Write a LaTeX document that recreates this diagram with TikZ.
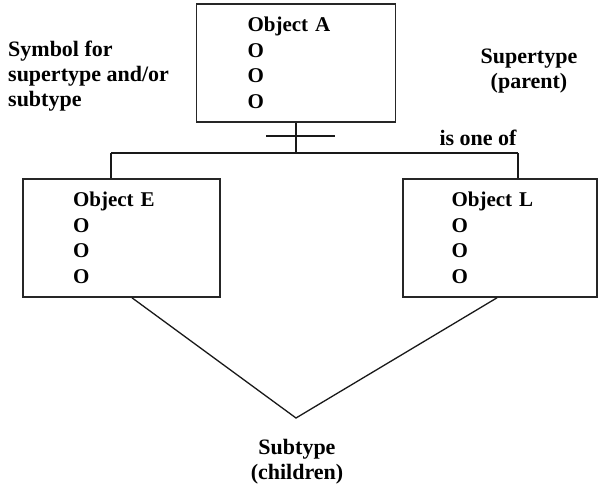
\documentclass[tikz,border=0pt]{standalone}
\usepackage{fontspec}
\setmainfont{Liberation Serif}
\usepackage{tikz}
\usetikzlibrary{positioning}

\begin{document}
\begin{tikzpicture}[
    x=1pt, y=-1pt,
    objbox/.style={rectangle, draw=black!85, line width=1.6pt, align=left, text width=97pt, inner sep=0pt, minimum height=118pt, font=\fontsize{21}{25.5}\selectfont\bfseries},
    label/.style={align=center, inner sep=0pt, font=\fontsize{22}{25}\selectfont\bfseries},
    link/.style={draw=black!90, line width=1.3pt}
]
    \useasboundingbox (0,0) rectangle (598,487);
    % Object boxes
    \node[objbox, minimum width=199pt] (objA) at (296,63) {Object A\\O\\O\\O};
    \node[objbox, minimum width=197pt] (objE) at (121.5,238) {Object E\\O\\O\\O};
    \node[objbox, minimum width=194pt] (objL) at (500,238) {Object L\\O\\O\\O};

    % Side texts
    \node[label, align=left, anchor=west] (symb) at (8,76) {Symbol for\\supertype and/or\\subtype};
    \node[label] (super) at (529,71) {Supertype\\(parent)};
    \node[label] (oneof) at (478,138) {is one of};
    \node[label] (sub) at (297,462) {Subtype\\(children)};

    % Connector tree
    \coordinate (jn) at (296,153);
    \coordinate (jnE) at (111,153);
    \coordinate (jnL) at (518,153);
    \coordinate (barW) at (266,136);
    \coordinate (barE) at (335,136);
    \draw[link] (objA.south) -- (jn);
    \draw[link] (barW) -- (barE);
    \draw[link] (jnE) -- (jnL);
    \draw[link] (jnE) -- (jnE |- objE.north);
    \draw[link] (jnL) -- (jnL |- objL.north);

    % Subtype wedge
    \path (objE.south) ++(10.5,0) coordinate (vE);
    \path (objL.south) ++(-3,0) coordinate (vL);
    \coordinate (apex) at (296,418);
    \draw[link] (vE) -- (apex) -- (vL);
\end{tikzpicture}
\end{document}
